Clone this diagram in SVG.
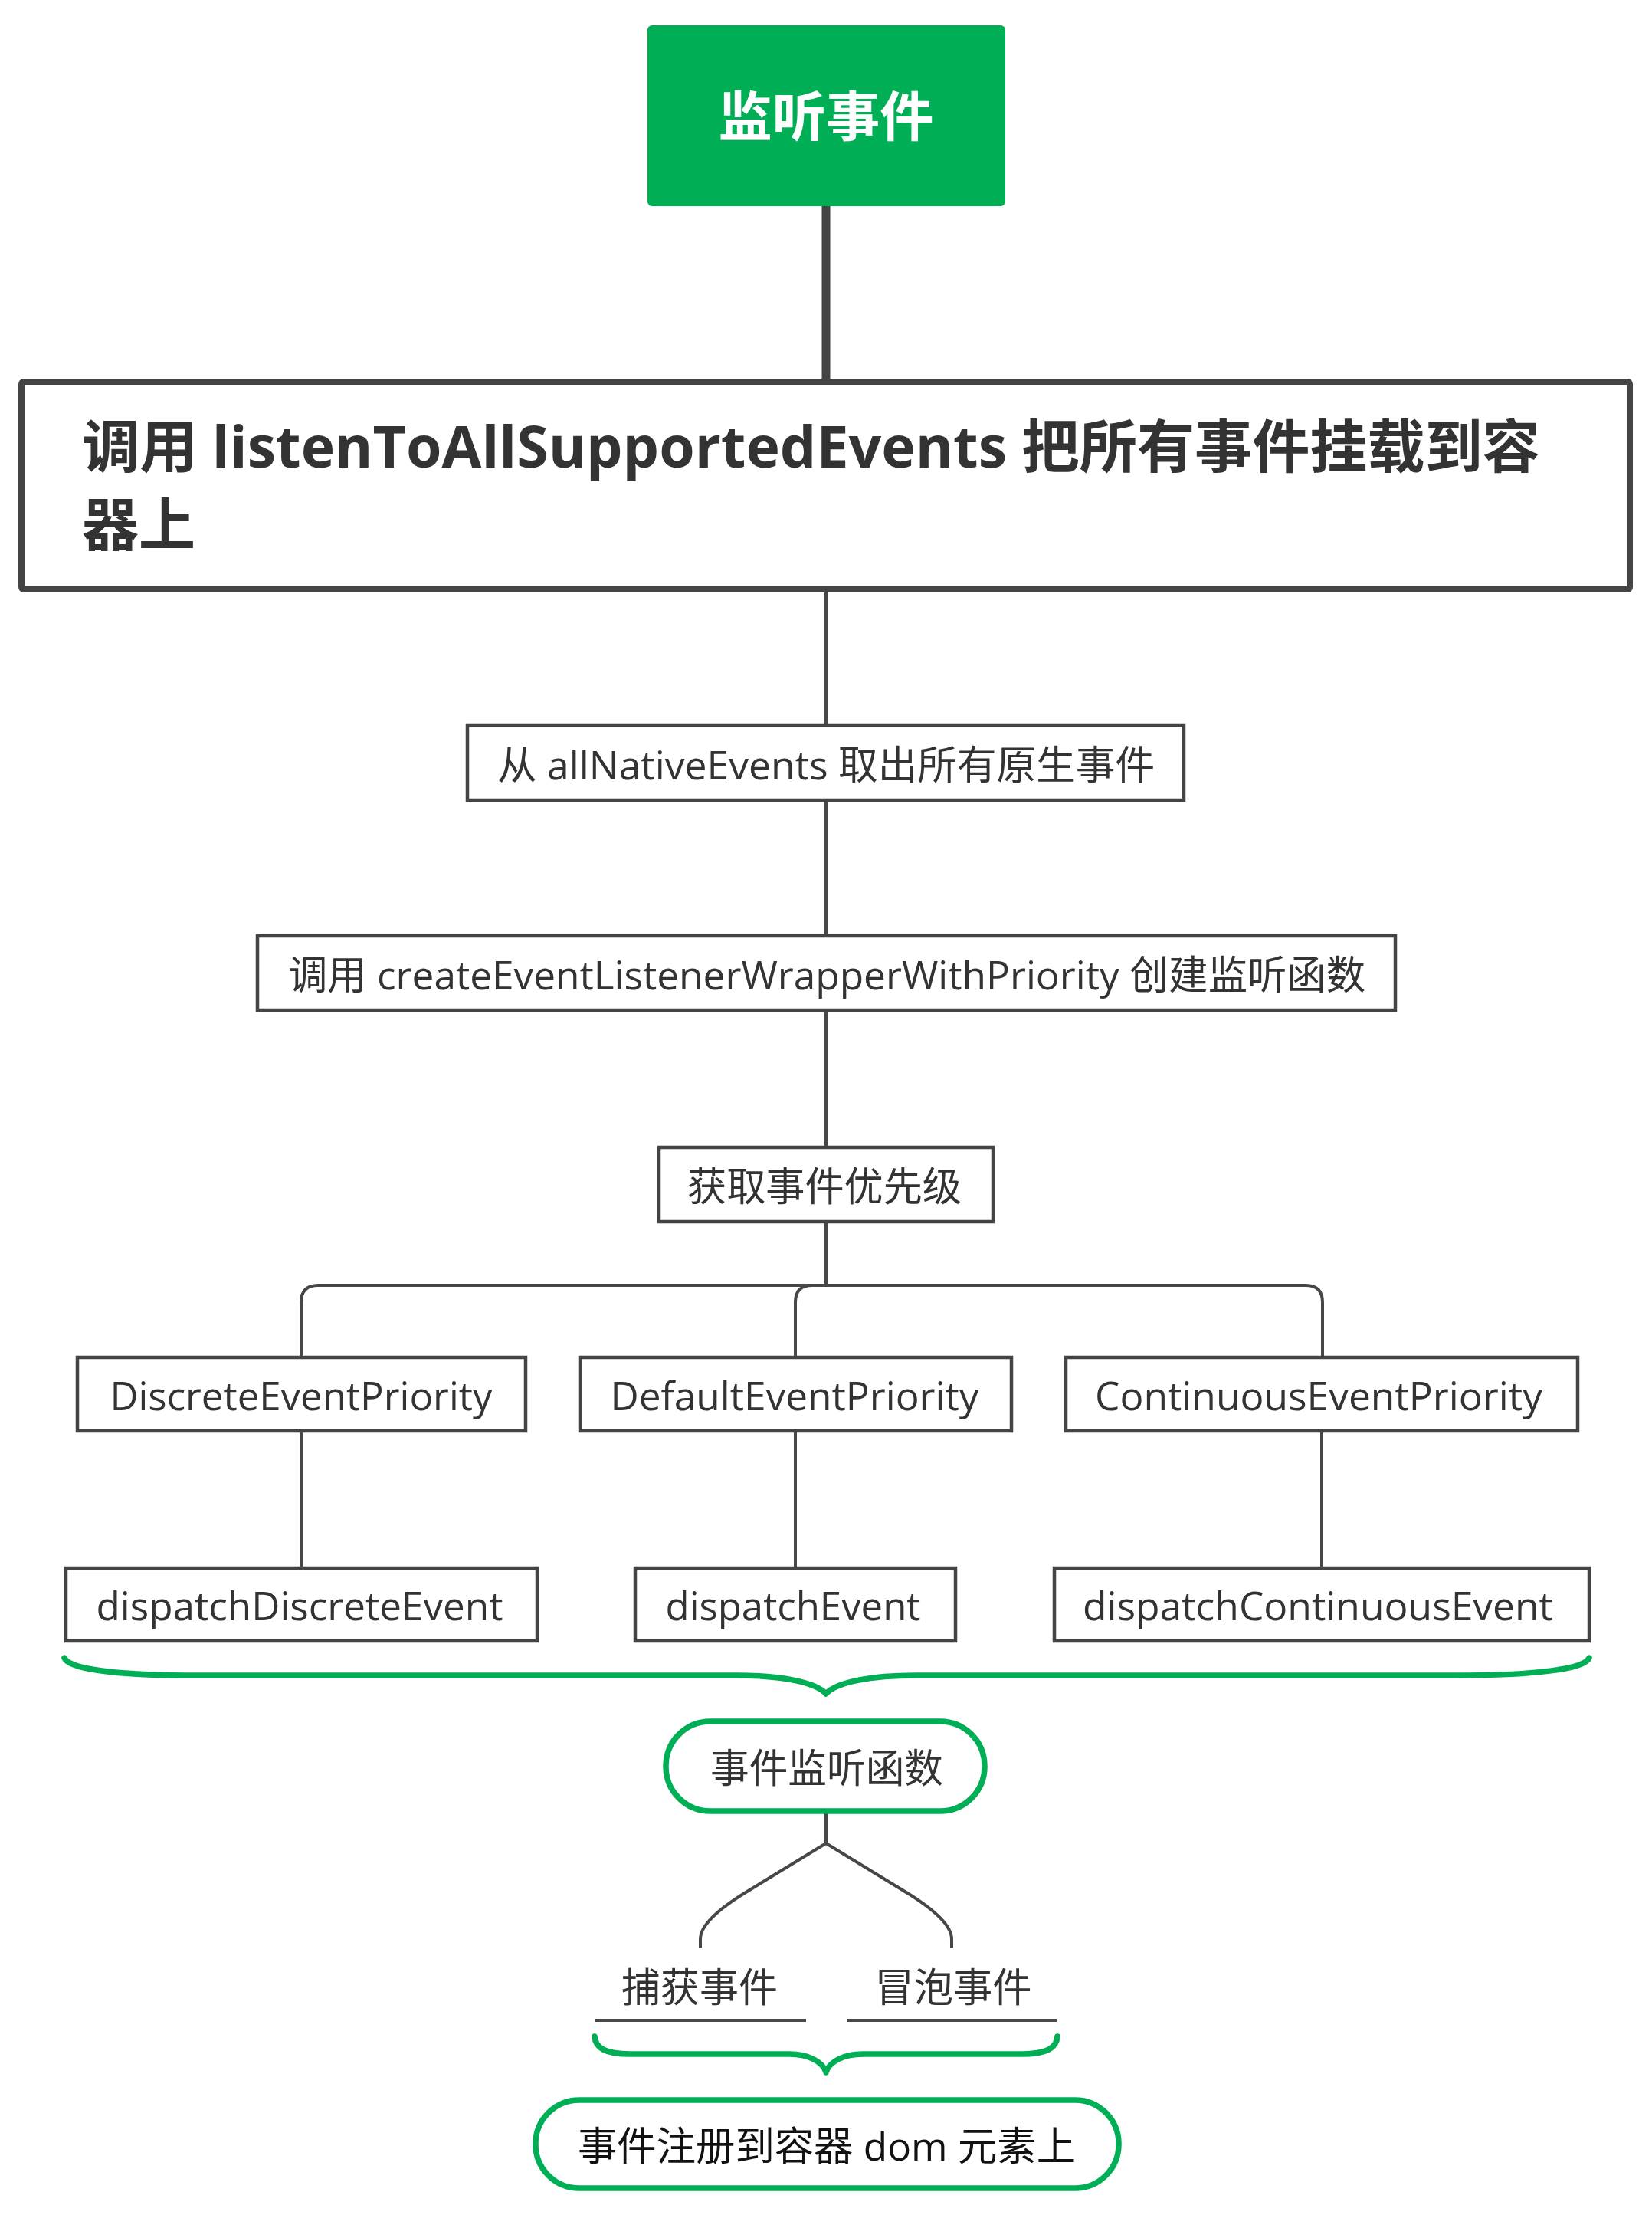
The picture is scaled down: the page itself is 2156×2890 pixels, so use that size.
<svg xmlns="http://www.w3.org/2000/svg" width="2156" height="2890" viewBox="0 0 2156 2890">
<style>
  text { font-family: "Open Sans", "Noto Sans CJK SC", sans-serif; fill: #333333; dominant-baseline: central; text-anchor: middle; }
  .box { fill: #ffffff; stroke: #444444; stroke-width: 4.5; }
  .t { font-size: 52px; }
  .conn { fill: none; stroke: #474747; stroke-width: 4; stroke-linecap: butt; }
  .brace { fill: none; stroke: #00AE55; stroke-width: 7.5; stroke-linecap: round; stroke-linejoin: round; }
  .pill { fill: #ffffff; stroke: #00AE55; stroke-width: 7.5; }
  .ul { stroke: #4a4a4a; stroke-width: 4; }
</style>
<rect width="2156" height="2890" fill="#ffffff"/>

<g id="connectors">
  <line x1="1078" y1="269" x2="1078" y2="494" stroke="#444444" stroke-width="11"/>
  <path class="conn" d="M1078 769 V946"/>
  <path class="conn" d="M1078 1044 V1221"/>
  <path class="conn" d="M1078 1318 V1497"/>
  <path class="conn" d="M1078 1594 V1677"/>
  <path class="conn" d="M393 1771 V1699 Q393 1677 415 1677 H1704 Q1726 1677 1726 1699 V1771"/>
  <path class="conn" d="M1078 1677 H1060 Q1038 1677 1038 1699 V1771"/>
  <path class="conn" d="M393 1867 V2046"/>
  <path class="conn" d="M1038 1867 V2046"/>
  <path class="conn" d="M1725 1867 V2046"/>
  <path class="brace" d="M84 2163 C 90 2182, 190 2186, 260 2186 H 960 C 1020 2186, 1065 2195, 1078 2210 C 1091 2195, 1136 2186, 1196 2186 H 1900 C 1966 2186, 2068 2182, 2074 2163"/>
  <path class="conn" d="M1078 2363 V2405"/>
  <path class="conn" d="M1078 2405 L 975 2468 Q 914 2505 914 2530 V 2541"/>
  <path class="conn" d="M1078 2405 L 1181 2468 Q 1242 2505 1242 2530 V 2541"/>
  <path class="brace" d="M776 2657 C 777 2672, 790 2680, 822 2680 H 1030 C 1055 2680, 1074 2690, 1078 2704 C 1082 2690, 1101 2680, 1126 2680 H 1334 C 1366 2680, 1379 2672, 1380 2657"/>
</g>

<g id="root">
  <rect x="845" y="33" width="467" height="236" rx="6" fill="#00AE55"/>
  <text x="1078" y="151" style="font-size:70px;font-weight:bold;fill:#ffffff" textLength="281" lengthAdjust="spacingAndGlyphs">监听事件</text>
</g>

<g id="main">
  <rect x="28" y="498" width="2099" height="271" rx="3" fill="#ffffff" stroke="#444444" stroke-width="8"/>
  <text x="107" y="581" style="font-size:75px;font-weight:bold;text-anchor:start" textLength="1903" lengthAdjust="spacingAndGlyphs">调用 listenToAllSupportedEvents 把所有事件挂载到容</text>
  <text x="107" y="683" style="font-size:75px;font-weight:bold;text-anchor:start" textLength="148" lengthAdjust="spacingAndGlyphs">器上</text>
</g>

<g id="n-native">
  <rect class="box" x="610" y="946" width="935" height="98"/>
  <text class="t" x="1078" y="996" textLength="858" lengthAdjust="spacingAndGlyphs">从 allNativeEvents 取出所有原生事件</text>
</g>

<g id="n-create">
  <rect class="box" x="336" y="1221" width="1485" height="97"/>
  <text class="t" x="1079" y="1270" textLength="1406" lengthAdjust="spacingAndGlyphs">调用 createEventListenerWrapperWithPriority 创建监听函数</text>
</g>

<g id="n-priority">
  <rect class="box" x="860" y="1497" width="436" height="97"/>
  <text class="t" x="1076" y="1546" textLength="358" lengthAdjust="spacingAndGlyphs">获取事件优先级</text>
</g>

<g id="n-discrete">
  <rect class="box" x="101" y="1771" width="585" height="96"/>
  <text class="t" x="393" y="1819" textLength="499" lengthAdjust="spacingAndGlyphs">DiscreteEventPriority</text>
</g>

<g id="n-default">
  <rect class="box" x="757" y="1771" width="563" height="96"/>
  <text class="t" x="1037" y="1819" textLength="481" lengthAdjust="spacingAndGlyphs">DefaultEventPriority</text>
</g>

<g id="n-continuous">
  <rect class="box" x="1391" y="1771" width="668" height="96"/>
  <text class="t" x="1721" y="1819" textLength="584" lengthAdjust="spacingAndGlyphs">ContinuousEventPriority</text>
</g>

<g id="n-dispatch-discrete">
  <rect class="box" x="86" y="2046" width="615" height="95"/>
  <text class="t" x="391" y="2093" textLength="531" lengthAdjust="spacingAndGlyphs">dispatchDiscreteEvent</text>
</g>

<g id="n-dispatch">
  <rect class="box" x="829" y="2046" width="418" height="95"/>
  <text class="t" x="1035" y="2093" textLength="333" lengthAdjust="spacingAndGlyphs">dispatchEvent</text>
</g>

<g id="n-dispatch-continuous">
  <rect class="box" x="1376" y="2046" width="698" height="95"/>
  <text class="t" x="1720" y="2093" textLength="614" lengthAdjust="spacingAndGlyphs">dispatchContinuousEvent</text>
</g>

<g id="n-listener">
  <rect class="pill" x="869" y="2246" width="416" height="117" rx="58" ry="58"/>
  <text class="t" x="1079" y="2305" textLength="304" lengthAdjust="spacingAndGlyphs">事件监听函数</text>
</g>

<g id="n-capture">
  <text class="t" x="913" y="2591" textLength="204" lengthAdjust="spacingAndGlyphs">捕获事件</text>
  <line class="ul" x1="777" y1="2636" x2="1052" y2="2636"/>
</g>

<g id="n-bubble">
  <text class="t" x="1244" y="2591" textLength="205" lengthAdjust="spacingAndGlyphs">冒泡事件</text>
  <line class="ul" x1="1105" y1="2636" x2="1379" y2="2636"/>
</g>

<g id="n-register">
  <rect class="pill" x="699" y="2740" width="761" height="115" rx="57" ry="57"/>
  <text class="t" x="1079" y="2798" style="fill:#111111" textLength="650" lengthAdjust="spacingAndGlyphs">事件注册到容器 dom 元素上</text>
</g>
</svg>
